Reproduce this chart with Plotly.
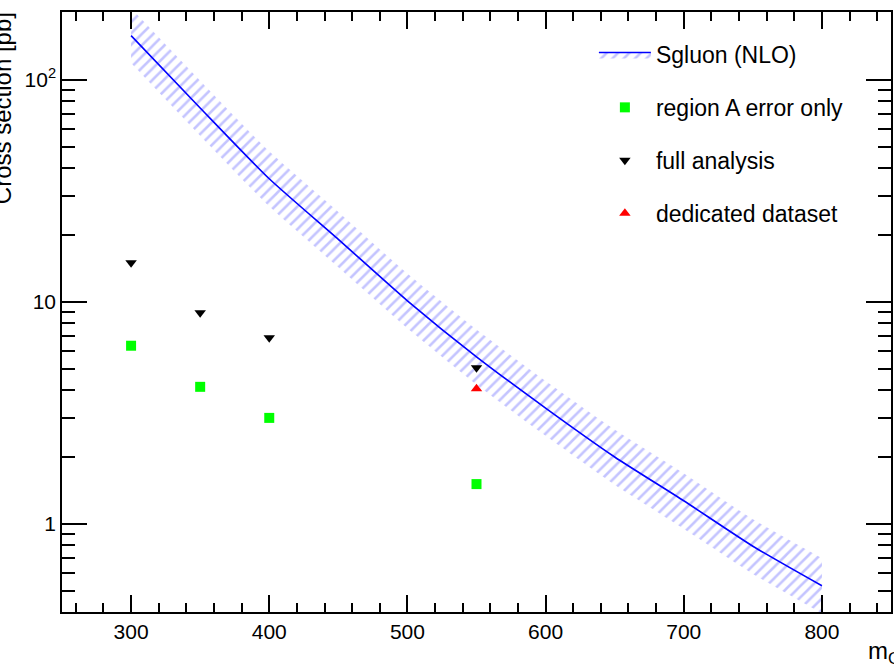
import plotly.graph_objects as go

# ---- data ----
mass_nlo = [300, 350, 400, 450, 500, 550, 600, 650, 700, 750, 800]
sigma_nlo = [158, 74.6, 35.8, 19.1, 10.1, 5.65, 3.32, 2.0, 1.27, 0.793, 0.526]
sigma_up = [210, 99, 47.6, 25.4, 13.4, 7.5, 4.4, 2.66, 1.69, 1.05, 0.70]
sigma_down = [119, 56, 26.9, 14.3, 7.6, 4.24, 2.49, 1.5, 0.95, 0.595, 0.395]

mass_pts = [300, 350, 400, 550]
region_a = [6.34, 4.14, 3.0, 1.51]
full_analysis = [15.0, 8.92, 6.88, 5.04]

mass_ded = [550]
dedicated = [4.06]

y_tickvals = [1, 10, 100]
y_ticktext = ["1", "10", "10<sup>2</sup>"]
y_minor = [0.5, 0.6, 0.7, 0.8, 0.9, 2, 3, 4, 5, 6, 7, 8, 9,
           20, 30, 40, 50, 60, 70, 80, 90, 200]

BAND = "rgba(90,90,255,0.72)"
FONT = "Liberation Sans, Arial, sans-serif"
PATTERN = dict(shape="/", fgcolor=BAND, bgcolor="rgba(0,0,0,0)", size=8, solidity=0.32)

fig = go.Figure()

fig.add_trace(go.Scatter(x=mass_nlo, y=sigma_down, mode="lines",
                         line=dict(width=0, color=BAND, shape="spline", smoothing=0.6),
                         showlegend=False, hoverinfo="skip"))
fig.add_trace(go.Scatter(x=mass_nlo, y=sigma_nlo, mode="lines", name="Sgluon (NLO)",
                         line=dict(color="#0000ff", width=1.6, shape="spline", smoothing=0.6),
                         fill="tonexty", fillcolor="rgba(0,0,0,0)", fillpattern=PATTERN,
                         legendgroup="a"))
fig.add_trace(go.Scatter(x=mass_nlo, y=sigma_up, mode="lines",
                         line=dict(width=0, color=BAND, shape="spline", smoothing=0.6),
                         showlegend=False,
                         fill="tonexty", fillcolor="rgba(0,0,0,0)", fillpattern=PATTERN,
                         hoverinfo="skip"))
fig.add_trace(go.Scatter(x=mass_pts, y=region_a, mode="markers", name="region A error only",
                         marker=dict(symbol="square", size=10, color="#00ff00"),
                         legendgroup="b"))
fig.add_trace(go.Scatter(x=mass_pts, y=full_analysis, mode="markers", name="full analysis",
                         marker=dict(symbol="triangle-down", size=10, color="black"),
                         legendgroup="c"))
fig.add_trace(go.Scatter(x=mass_ded, y=dedicated, mode="markers", name="dedicated dataset",
                         marker=dict(symbol="triangle-up", size=10, color="#ff0000"),
                         legendgroup="d"))

fig.update_layout(
    width=894, height=664,
    margin=dict(l=62, r=1, t=12, b=52),
    paper_bgcolor="white", plot_bgcolor="white",
    font=dict(family=FONT, size=21, color="black"),
    showlegend=True,
    legend=dict(x=0.6416, y=0.965, xanchor="left", yanchor="top",
                bgcolor="rgba(0,0,0,0)", borderwidth=0,
                font=dict(size=23, family=FONT, color="black"),
                tracegroupgap=20, itemwidth=52, traceorder="grouped"),
    xaxis=dict(range=[250, 850], dtick=100, tick0=0,
               ticks="inside", ticklen=17, tickwidth=1.5, tickcolor="black",
               showline=True, linecolor="black", linewidth=1.5, mirror="ticks",
               showgrid=False, zeroline=False,
               minor=dict(dtick=20, tick0=0, ticks="inside", ticklen=9,
                          tickwidth=1.5, tickcolor="black", showgrid=False),
               tickfont=dict(size=21)),
    yaxis=dict(type="log", range=[-0.397, 2.305],
               tickmode="array", tickvals=y_tickvals, ticktext=y_ticktext,
               ticks="inside", ticklen=25, tickwidth=1.5, tickcolor="black",
               showline=True, linecolor="black", linewidth=1.5, mirror="ticks",
               showgrid=False, zeroline=False,
               minor=dict(tickmode="array", tickvals=y_minor, ticks="inside",
                          ticklen=13, tickwidth=1.5, tickcolor="black", showgrid=False),
               tickfont=dict(size=21)),
)

fig.add_annotation(text="Cross section [pb]", textangle=-90,
                   xref="paper", yref="paper", x=(2 - 62) / 831, y=(612 - 108) / 600,
                   xanchor="center", yanchor="middle", showarrow=False,
                   font=dict(size=24, family=FONT, color="black"))
fig.add_annotation(text="m<sub>G</sub> [GeV]",
                   xref="paper", yref="paper", x=(868 - 62) / 831, y=(612 - 652) / 600,
                   xanchor="left", yanchor="middle", showarrow=False,
                   font=dict(size=24, family=FONT, color="black"))

fig.write_html("out.html")
